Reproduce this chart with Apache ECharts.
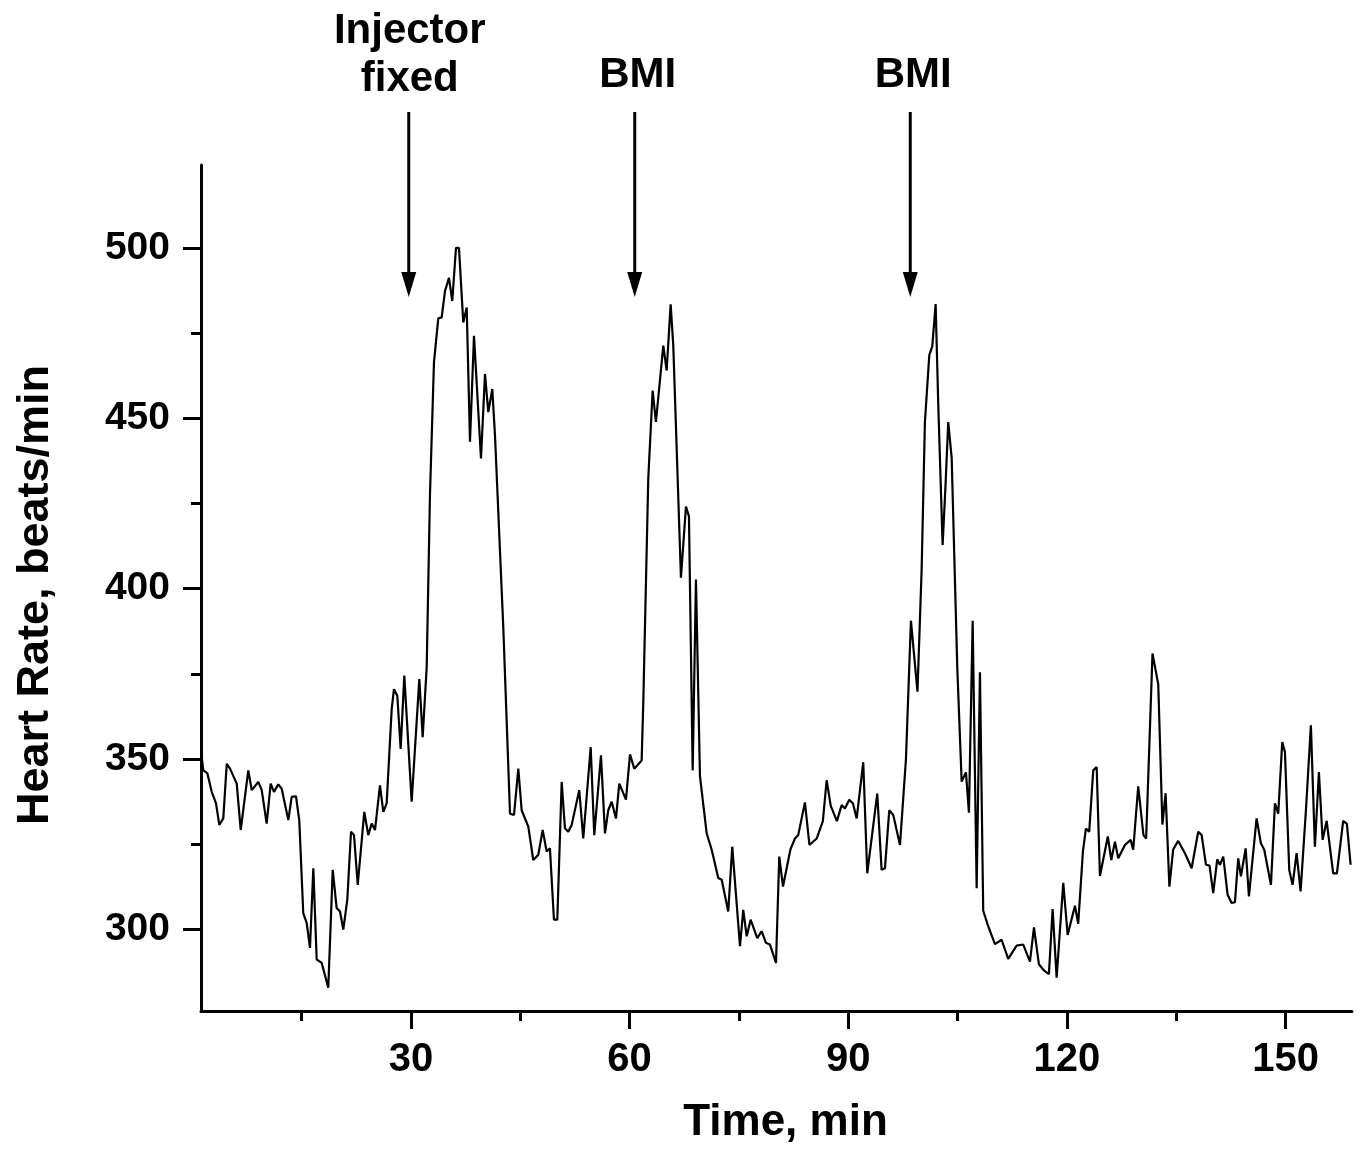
<!DOCTYPE html>
<html>
<head>
<meta charset="utf-8">
<script src="https://cdn.jsdelivr.net/npm/echarts@6/dist/echarts.min.js"></script>
<style>
html,body{margin:0;padding:0;background:#fff;}
#chart{width:1363px;height:1150px;}
</style>
</head>
<body>
<div id="chart"></div>
<script>
// ---- data ----
const times = [1.30,1.52,2.06,2.67,3.26,3.71,4.26,4.73,5.18,6.10,6.65,7.69,8.16,9.06,9.53,10.21,10.76,11.21,11.80,12.27,13.18,13.64,14.23,14.68,15.23,15.70,16.15,16.61,17.07,17.76,18.66,19.27,19.81,20.27,20.72,21.27,21.78,22.19,22.70,23.60,24.15,24.62,25.07,25.75,26.21,26.67,27.36,27.67,28.13,28.59,29.09,30.10,31.15,31.61,32.16,32.61,33.16,33.75,34.22,34.67,35.22,35.67,36.18,36.59,37.18,37.65,38.10,38.65,39.61,40.16,40.61,41.16,41.53,42.67,43.59,44.14,44.73,45.19,46.10,46.78,47.47,48.07,48.62,49.07,49.62,50.08,50.68,51.13,51.58,52.05,53.09,53.64,54.66,55.15,56.07,56.62,57.07,57.54,58.13,58.58,59.50,60.05,60.64,61.65,61.87,62.56,63.16,63.61,64.62,65.08,65.63,65.99,67.04,67.73,68.14,68.65,69.10,69.65,70.57,71.26,72.16,72.63,73.53,74.08,75.14,75.59,76.06,76.60,77.51,78.11,78.70,79.25,80.08,80.53,81.04,82.06,82.68,83.13,84.05,84.67,85.66,86.51,87.03,87.59,88.44,89.09,89.54,90.13,90.64,91.15,92.05,92.60,93.97,94.57,95.03,95.62,96.17,97.09,97.91,98.59,99.49,100.06,100.51,101.11,101.52,101.98,102.34,102.94,103.33,103.71,104.18,104.95,105.55,106.14,106.55,107.06,107.61,108.06,108.51,109.20,110.12,111.03,111.94,113.09,114.00,114.92,115.47,116.15,116.84,117.52,118.03,118.58,119.49,120.09,121.09,121.54,122.19,122.60,123.05,123.60,124.07,124.52,125.60,126.08,126.58,127.03,127.95,128.73,129.09,129.77,130.49,130.86,131.73,132.52,133.09,133.53,134.05,134.57,135.26,136.18,137.10,138.00,138.47,139.07,139.55,140.06,140.61,140.98,141.44,142.04,142.59,143.04,143.49,143.86,144.51,144.96,146.01,146.60,147.06,147.98,148.53,148.98,149.53,149.90,150.49,150.95,151.50,152.05,152.78,153.46,154.01,154.56,155.07,155.62,156.52,157.03,157.89,158.40,158.91];
const heartRate = [350.6,346.7,345.9,340.4,337.0,330.7,332.6,348.6,347.2,342.8,329.2,346.7,340.9,343.3,340.9,331.1,342.8,340.4,342.6,341.3,332.1,338.9,339.1,332.1,304.8,301.9,294.6,318.0,291.2,290.2,282.9,317.5,306.3,305.3,300.0,308.8,328.7,327.7,313.1,334.5,327.7,331.1,329.2,342.3,334.5,337.0,364.7,370.5,368.6,353.0,374.5,337.5,373.5,356.4,376.9,427.5,466.4,479.3,479.6,487.3,491.2,484.4,500.0,500.0,478.1,482.5,443.1,474.2,438.2,463.0,451.8,458.6,445.0,388.6,334.0,333.6,347.2,335.0,330.2,320.4,321.9,329.2,322.9,323.8,302.9,302.9,343.3,329.7,328.7,330.7,340.9,326.7,353.5,327.7,351.1,328.2,335.0,337.5,332.6,342.8,338.1,351.4,347.2,349.6,366.2,432.4,458.1,448.9,471.3,464.0,483.4,471.3,403.2,424.1,421.2,346.7,402.7,345.0,328.2,323.4,315.1,314.6,305.3,324.3,295.1,305.8,298.0,302.9,297.5,299.5,296.1,295.6,290.2,321.4,312.6,323.5,326.7,327.7,337.3,324.8,326.7,331.8,343.8,336.3,331.8,336.5,335.5,338.1,337.0,332.6,349.1,316.5,339.9,317.5,318.0,335.0,333.6,324.8,350.0,390.6,369.8,405.6,448.9,468.5,471.1,483.5,454.1,412.8,430.0,448.9,438.4,376.9,343.4,346.1,334.3,390.6,312.1,375.5,305.5,300.9,295.7,297.0,291.4,295.3,295.6,290.6,300.6,289.8,288.0,286.9,306.0,285.9,313.7,298.4,307.0,301.7,323.0,329.6,328.7,346.7,347.7,315.7,327.3,320.4,325.8,320.9,324.8,326.3,323.4,342.0,327.7,326.7,381.0,372.0,330.8,340.0,312.6,323.5,326.0,322.4,318.0,328.7,327.7,319.0,318.8,310.7,320.6,319.0,321.4,310.2,307.8,308.0,320.9,315.6,323.8,309.7,332.6,325.3,323.4,313.1,337.0,334.0,355.0,352.1,317.5,313.1,322.4,311.2,335.0,359.9,324.3,346.2,326.3,331.9,316.5,316.5,331.9,331.0,319.0];
const xTicks = [30, 60, 90, 120, 150];
const xMinorTicks = [15, 45, 75, 105, 135];
const yTicks = [300, 350, 400, 450, 500];
const yMinorTicks = [325, 375, 425, 475];
const eventTimes = [29.7, 60.7, 98.5];
const eventLabels = ['Injector\nfixed', 'BMI', 'BMI'];

const X_MIN = 1.2, X_MAX = 159.1, Y_MIN = 276.1, Y_MAX = 524.3;
const FONT = '"Liberation Sans", Arial, Helvetica, sans-serif';

const chart = echarts.init(document.getElementById('chart'), null, {renderer: 'canvas'});
const seriesData = times.map((t, i) => [t, heartRate[i]]);

const axisLineStyle = {color: '#000', width: 3};
chart.setOption({
  animation: false,
  backgroundColor: '#fff',
  grid: {left: 201, right: 11, top: 165, bottom: 135, containLabel: false},
  xAxis: [{
    type: 'value', min: X_MIN, max: X_MAX, position: 'bottom',
    name: 'Time, min', nameLocation: 'middle', nameGap: 90,
    nameTextStyle: {fontFamily: FONT, fontWeight: 'bold', fontSize: 44, color: '#000', padding: [0, 0, 0, 18]},
    axisLine: {show: true, onZero: false, lineStyle: axisLineStyle},
    axisTick: {show: true, length: 18, inside: false, lineStyle: {color: '#000', width: 3}, customValues: xTicks},
    axisLabel: {show: true, customValues: xTicks, margin: 29, fontFamily: FONT, fontWeight: 'bold', fontSize: 40, color: '#000'},
    splitLine: {show: false}
  }, {
    type: 'value', min: X_MIN, max: X_MAX, position: 'bottom', gridIndex: 0,
    axisLine: {show: false, onZero: false},
    axisTick: {show: true, length: 10, inside: false, lineStyle: {color: '#000', width: 3}, customValues: xMinorTicks},
    axisLabel: {show: false},
    splitLine: {show: false}
  }],
  yAxis: [{
    type: 'value', min: Y_MIN, max: Y_MAX, position: 'left',
    name: 'Heart Rate, beats/min', nameLocation: 'middle', nameGap: 143, nameRotate: 90,
    nameTextStyle: {fontFamily: FONT, fontWeight: 'bold', fontSize: 45, color: '#000', padding: [0, 14, 0, 0]},
    axisLine: {show: true, onZero: false, lineStyle: axisLineStyle},
    axisTick: {show: true, length: 18, inside: false, lineStyle: {color: '#000', width: 3}, customValues: yTicks},
    axisLabel: {show: true, customValues: yTicks, margin: 31, fontFamily: FONT, fontWeight: 'bold', fontSize: 39, color: '#000'},
    splitLine: {show: false}
  }, {
    type: 'value', min: Y_MIN, max: Y_MAX, position: 'left', gridIndex: 0,
    axisLine: {show: false, onZero: false},
    axisTick: {show: true, length: 10, inside: false, lineStyle: {color: '#000', width: 3}, customValues: yMinorTicks},
    axisLabel: {show: false},
    splitLine: {show: false}
  }],
  series: [{
    type: 'line', xAxisIndex: 0, yAxisIndex: 0,
    data: seriesData, showSymbol: false, symbol: 'none',
    lineStyle: {color: '#000', width: 2.2}, smooth: false, clip: true
  }]
});

// event arrows + labels placed with the chart's own x scale
const graphics = [];
eventTimes.forEach((t, i) => {
  const px = chart.convertToPixel({xAxisIndex: 0}, t);
  graphics.push({type: 'line', shape: {x1: px, y1: 112, x2: px, y2: 276}, style: {stroke: '#000', lineWidth: 3}});
  graphics.push({type: 'polygon', shape: {points: [[px - 7.5, 272], [px + 7.5, 272], [px, 297]]}, style: {fill: '#000'}});
  const multi = eventLabels[i].indexOf('\n') >= 0;
  graphics.push({type: 'text', x: px + (multi ? 1 : 3), y: multi ? 55 : 75,
    style: {text: eventLabels[i], align: 'center', verticalAlign: 'middle', fontFamily: FONT, fontWeight: 'bold', fontSize: 42, lineHeight: 48, fill: '#000'}});
});
chart.setOption({graphic: graphics});
</script>
</body>
</html>
